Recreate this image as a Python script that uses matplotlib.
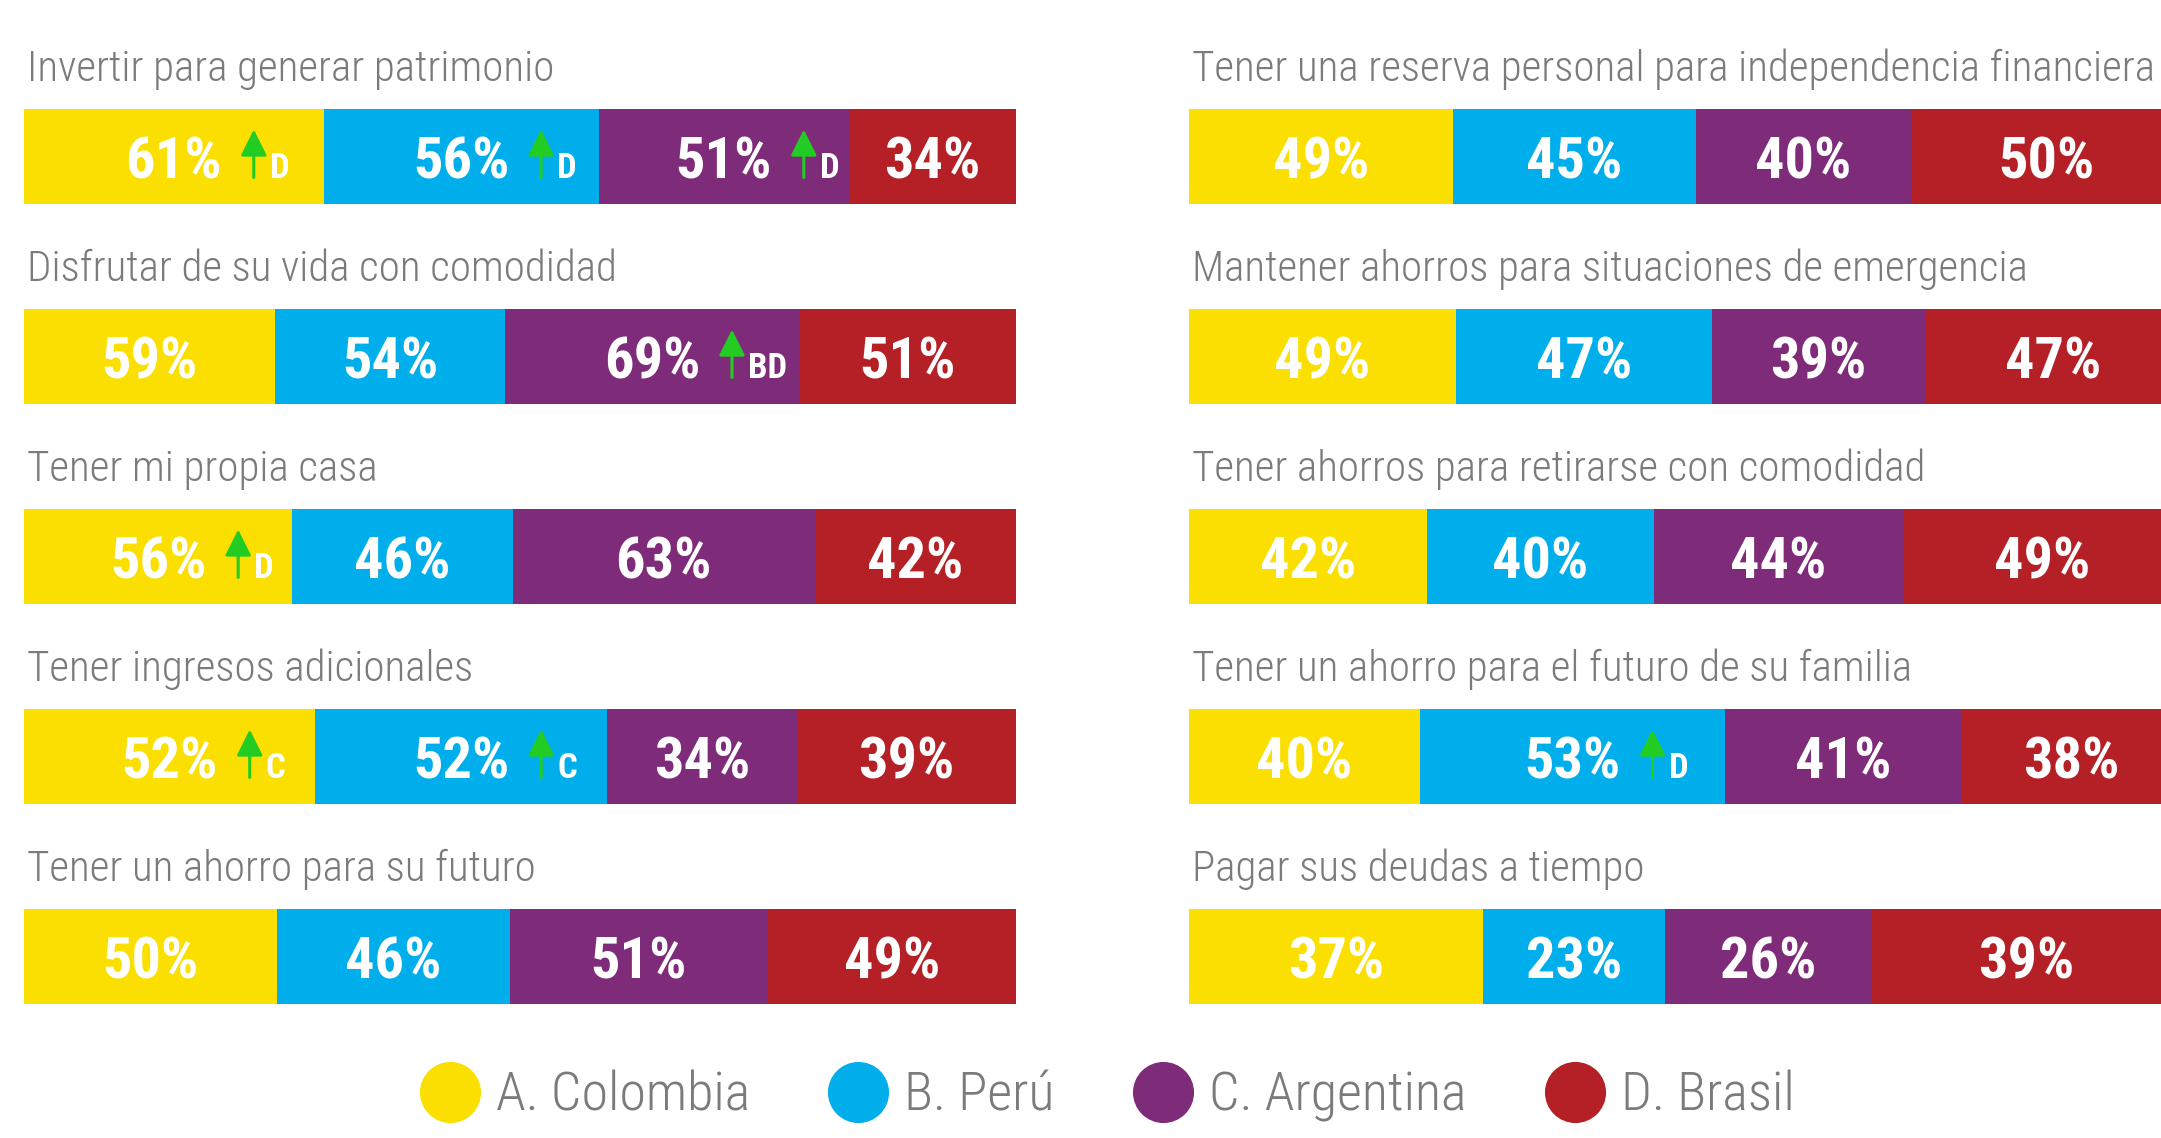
#!/usr/bin/env python3
import numpy as np
from matplotlib import pyplot as plt
from matplotlib import font_manager
from matplotlib.lines import Line2D
from matplotlib.transforms import offset_copy


# data
countries = ['A. Colombia', 'B. Perú', 'C. Argentina', 'D. Brasil']
colors = ['#FADF00', '#00AEEC', '#7E2C79', '#B42025']

left_titles = ['Invertir para generar patrimonio',
               'Disfrutar de su vida con comodidad',
               'Tener mi propia casa',
               'Tener ingresos adicionales',
               'Tener un ahorro para su futuro']
left_values = [[61, 56, 51, 34],
               [59, 54, 69, 51],
               [56, 46, 63, 42],
               [52, 52, 34, 39],
               [50, 46, 51, 49]]
# significance letters ('' = none)
left_notes = [['D', 'D', 'D', ''],
              ['', '', 'BD', ''],
              ['D', '', '', ''],
              ['C', 'C', '', ''],
              ['', '', '', '']]

right_titles = ['Tener una reserva personal para independencia financiera',
                'Mantener ahorros para situaciones de emergencia',
                'Tener ahorros para retirarse con comodidad',
                'Tener un ahorro para el futuro de su familia',
                'Pagar sus deudas a tiempo']
right_values = [[49, 45, 40, 50],
                [49, 47, 39, 47],
                [42, 40, 44, 49],
                [40, 53, 41, 38],
                [37, 23, 26, 39]]
right_notes = [['', '', '', ''],
               ['', '', '', ''],
               ['', '', '', ''],
               ['', 'D', '', ''],
               ['', '', '', '']]


names = {f.name for f in font_manager.fontManager.ttflist}
NARROW = 'DejaVu Sans'
for cand in ['Roboto Condensed', 'Liberation Sans Narrow', 'DejaVu Sans Condensed']:
    if cand in names:
        NARROW = cand
        break
FAM = [NARROW, 'DejaVu Sans']

GRAY = '#7B7B7E'
GREEN = '#22CC22'
W, H = 2161, 1138
fig = plt.figure(figsize=(W / 100, H / 100), dpi=100)


def draw_panel(x0_px, titles, values, notes):
    ax = fig.add_axes([x0_px / W, 0, 992 / W, 1])
    ax.set_xlim(0, 1)
    # one row = 200 px, first bar centre at 156.5 px from the top
    ax.set_ylim((H - 156.5) / 200, -156.5 / 200)
    ax.axis('off')
    for i, (title, vals, nts) in enumerate(zip(titles, values, notes)):
        vals = np.array(vals, dtype=float)
        shares = vals / vals.sum()
        lefts = np.concatenate([[0], np.cumsum(shares)[:-1]])
        ax.barh(i, shares, left=lefts, height=0.475, color=colors, linewidth=0)
        ax.text(0.003, i - 0.435, title, ha='left', va='center', fontsize=31,
                color=GRAY, fontweight='light', family=FAM)
        for v, l, s, n in zip(vals, lefts, shares, nts):
            c = l + s / 2
            ax.text(c, i + 0.11, f'{int(v)}%', ha='center', va='baseline',
                    fontsize=42, color='white', fontweight='bold', family=FAM)
            if n:
                tr = offset_copy(ax.transData, fig=fig, x=80, y=0, units='dots')
                ax.annotate('', xy=(c, i - 0.135), xytext=(c, i + 0.105),
                            xycoords=tr, textcoords=tr,
                            arrowprops=dict(arrowstyle='-|>,head_length=0.8,head_width=0.4',
                                            mutation_scale=20, color=GREEN, lw=2.2,
                                            shrinkA=0, shrinkB=0))
                tr2 = offset_copy(ax.transData, fig=fig, x=96, y=0, units='dots')
                ax.text(c, i + 0.11, n, transform=tr2, ha='left', va='baseline',
                        fontsize=25, color='white', fontweight='bold', family=FAM)
    return ax


draw_panel(24, left_titles, left_values, left_notes)
draw_panel(1189, right_titles, right_values, right_notes)

handles = [Line2D([], [], linestyle='none', marker='o', markersize=44,
                  markerfacecolor=c, markeredgewidth=0) for c in colors]
leg = fig.legend(handles, countries, loc='center', bbox_to_anchor=(0.513, 1 - 1096 / H),
                 ncol=4, frameon=False, handlelength=1.0, handletextpad=0.35,
                 columnspacing=1.5, prop={'family': FAM, 'size': 39, 'weight': 'light'})
for t in leg.get_texts():
    t.set_color(GRAY)

plt.savefig('out.png', dpi=100)
